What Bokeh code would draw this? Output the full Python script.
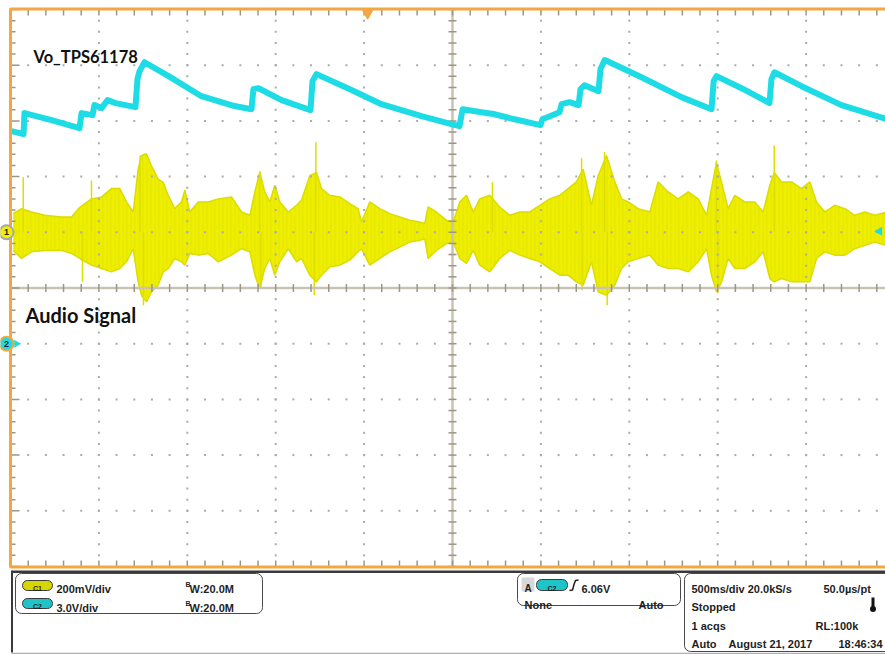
import numpy as np
from bokeh.plotting import figure
from bokeh.models import Range1d, Label, BoxAnnotation
from bokeh.core.properties import value
from bokeh.layouts import column
from bokeh.embed import file_html
from bokeh.resources import INLINE

# ---------------- data ----------------
# Channel 2 (cyan): Vo_TPS61178, time [s] and voltage [V]
ch2_t = [0.006, 0.074, 0.079, 0.232, 0.390, 0.402, 0.464, 0.475, 0.515, 0.549,
         0.594, 0.707, 0.718, 0.730, 0.758, 0.894, 1.080, 1.267, 1.363, 1.374,
         1.403, 1.533, 1.697, 1.708, 1.731, 1.929, 2.098, 2.325, 2.494, 2.540,
         2.557, 2.664, 2.732, 2.845, 2.998, 3.009, 3.037, 3.105, 3.117, 3.162,
         3.213, 3.224, 3.247, 3.326, 3.337, 3.360, 3.377, 3.569, 3.795, 3.965,
         3.977, 3.993, 4.135, 4.293, 4.304, 4.321, 4.474, 4.700, 4.955]
ch2_v = [11.45, 11.29, 12.42, 12.04, 11.61, 12.42, 12.31, 12.85, 12.69, 13.12,
         12.96, 12.74, 14.25, 14.68, 15.16, 14.41, 13.33, 12.80, 12.63, 13.71,
         13.76, 13.12, 12.58, 14.14, 14.52, 13.66, 12.90, 12.26, 11.83, 11.72,
         12.63, 12.47, 12.37, 12.10, 11.77, 12.10, 12.20, 12.47, 12.90, 13.01,
         12.85, 13.71, 13.92, 13.60, 14.78, 15.27, 15.21, 14.35, 13.28, 12.63,
         14.14, 14.41, 13.76, 12.96, 14.25, 14.62, 13.87, 12.85, 12.10]

# Channel 1 (yellow): audio signal envelope, time [s], upper / lower [mV]
ch1_t = [0.015, 0.062, 0.119, 0.194, 0.288, 0.345, 0.392, 0.458, 0.515, 0.571,
         0.618, 0.656, 0.694, 0.722, 0.741, 0.769, 0.797, 0.835, 0.864, 0.892,
         0.929, 0.967, 0.986, 1.014, 1.062, 1.118, 1.175, 1.250, 1.307, 1.354,
         1.382, 1.410, 1.438, 1.467, 1.495, 1.523, 1.571,
         1.618, 1.646, 1.693, 1.731, 1.759, 1.806, 1.863, 1.919, 1.966, 1.985,
         2.032, 2.089, 2.145, 2.202, 2.258, 2.315, 2.343, 2.362, 2.409, 2.466,
         2.504, 2.541, 2.579, 2.617, 2.654, 2.711, 2.767, 2.824, 2.881, 2.937,
         2.994, 3.050, 3.107, 3.154, 3.201, 3.239,
         3.286, 3.324, 3.371, 3.418, 3.456, 3.494, 3.550, 3.616, 3.663, 3.720,
         3.776, 3.833, 3.890, 3.937, 3.965, 3.993, 4.022, 4.059, 4.097, 4.153,
         4.210, 4.257, 4.295, 4.320, 4.361, 4.418, 4.474, 4.521, 4.559, 4.606,
         4.662, 4.719, 4.775, 4.832, 4.889, 4.955]
ch1_hi = [67, 85, 73, 61, 55, 55, 90, 120, 127, 157,
          157, 109, 73, 227, 276, 282, 239, 191, 179, 133,
          85, 109, 151, 73, 109, 109, 120, 127, 73, 61,
          145, 217, 145, 109, 169, 109, 73,
          97, 115, 203, 215, 157, 133, 127, 103, 85, 37,
          109, 85, 67, 55, 43, 37, 31, 91, 73, 43,
          37, 109, 133, 73, 120, 133, 91, 61, 73, 73,
          97, 120, 133, 157, 181, 227,
          97, 203, 276, 181, 120, 109, 85, 73, 181, 145,
          120, 145, 120, 61, 157, 251, 179, 85, 133, 109,
          109, 73, 169, 215, 181, 181, 157, 181, 109, 73,
          97, 85, 61, 73, 61, 73]
ch1_lo = [-65, -94, -70, -65, -65, -76, -94, -118, -130, -142,
          -130, -106, -59, -178, -226, -250, -214, -190, -142, -130,
          -94, -106, -118, -76, -82, -76, -106, -82, -59, -70,
          -154, -202, -130, -94, -154, -106, -59,
          -106, -94, -154, -178, -154, -124, -118, -100, -70, -59,
          -118, -94, -70, -53, -35, -29, -23, -94, -65, -41,
          -35, -94, -112, -65, -118, -142, -94, -65, -82, -94,
          -106, -130, -154, -154, -178, -190,
          -106, -214, -226, -190, -130, -106, -94, -82, -118, -130,
          -130, -142, -106, -59, -154, -214, -178, -94, -130, -130,
          -106, -70, -166, -178, -166, -178, -178, -178, -94, -70,
          -82, -82, -59, -47, -35, -47]
# isolated tall spikes of the audio signal
spike_t = [0.072, 0.407, 0.458, 0.733, 0.752, 1.410, 1.416, 1.718, 1.727,
           2.726, 3.230, 3.233, 3.360, 3.375, 3.993, 4.000, 4.320]
spike_mv = [198, -178, 186, 276, -262, 219, -202, -226, 324,
            180, 266, -208, 288, -262, 258, -220, 312]

# scope settings
ch1_scale = "200mV/div"
ch2_scale = "3.0V/div"
bw_text = "W:20.0M"
trig_level = 6.06
trig_time = 2.02

# ---------------- colours ----------------
ORANGE = "#F4A640"
YELLOW = "#EEEE00"
CYAN = "#1EDCE6"
GRIDC = "#C9C3B5"
TICKC = "#9E9684"
DOTC = "#ABABAB"

PX = 0.5 / 88.4      # seconds per pixel
PY = 10.0 / 557.0    # divisions per pixel
X_END = 875 * PX

p = figure(width=885, height=570, x_range=Range1d(-10 * PX, X_END),
           y_range=Range1d(-5 - 4 * PY, 5 + 9 * PY),
           output_backend="svg", toolbar_location=None,
           x_axis_location=None, y_axis_location=None, min_border=0)
p.xgrid.visible = False
p.ygrid.visible = False
p.outline_line_color = None
p.background_fill_color = "white"
p.border_fill_color = "white"
p.extra_y_ranges = {"ch1": Range1d(-1200 - 800 * PY, 800 + 1800 * PY),
                    "ch2": Range1d(-12 - 12 * PY, 18 + 27 * PY)}

# ---- Channel 1 audio trace ----
p.varea(x=ch1_t, y1=ch1_lo, y2=ch1_hi, y_range_name="ch1", fill_color=YELLOW,
        hatch_pattern="vertical_line", hatch_color="#D6D600", hatch_alpha=0.35,
        hatch_scale=4, hatch_weight=1)
p.line(ch1_t, ch1_hi, y_range_name="ch1", line_color="#DCDC00", line_width=1.5)
p.line(ch1_t, ch1_lo, y_range_name="ch1", line_color="#DCDC00", line_width=1.5)
p.segment(x0=spike_t, y0=[0] * len(spike_t), x1=spike_t, y1=spike_mv,
          y_range_name="ch1", line_color="#DEDE00", line_width=1.5)

# ---- graticule ----
minor_x = np.arange(0, X_END + 1e-9, 0.1)
minor_y = np.arange(-5, 5 + 1e-9, 0.2)
major_x = [0.5, 1.0, 1.5, 2.0, 3.0, 3.5, 4.0, 4.5]
major_y = [-4, -3, -2, -1, 1, 2, 3, 4]
dx = [mx for mx in major_x for _ in minor_y]
dy = [my for _ in major_x for my in minor_y]
dx += [mx for _ in major_y for mx in minor_x]
dy += [my for my in major_y for _ in minor_x]
p.scatter(dx, dy, marker="square", size=2, fill_color=DOTC, line_color=None)

# centre cross
p.line([2.5, 2.5], [-5, 5], line_color=GRIDC, line_width=2.5)
p.line([0, X_END], [0, 0], line_color=GRIDC, line_width=2.5)
p.segment(x0=2.5 - 4 * PX, y0=minor_y, x1=2.5 + 4 * PX, y1=minor_y, line_color=TICKC, line_width=1.5)
p.segment(x0=minor_x, y0=-4 * PY, x1=minor_x, y1=4 * PY, line_color=TICKC, line_width=1.5)
# edge ticks
p.segment(x0=minor_x, y0=5, x1=minor_x, y1=5 - 6 * PY, line_color=TICKC, line_width=1.5)
p.segment(x0=minor_x, y0=-5, x1=minor_x, y1=-5 + 6 * PY, line_color=TICKC, line_width=1.5)
tick_len = [9 * PX if abs(v - round(v)) < 1e-6 else 5 * PX for v in minor_y]
p.segment(x0=0, y0=minor_y, x1=tick_len, y1=minor_y, line_color=TICKC, line_width=1.5)

# ---- Channel 2 trace ----
p.line(ch2_t, ch2_v, y_range_name="ch2", line_color=CYAN, line_width=6, line_join="round")

# ---- orange frame (right side lies beyond the screen) ----
p.line([X_END, 0, 0, X_END], [5 + 0.5 * PY, 5 + 0.5 * PY, -5 - 0.5 * PY, -5 - 0.5 * PY],
       line_color=ORANGE, line_width=3)

# ---- markers ----
p.scatter([trig_time], [5 - 4 * PY], marker="inverted_triangle", size=10,
          fill_color=ORANGE, line_color=ORANGE)
p.scatter([6 * PX], [1], marker="triangle", angle=-np.pi / 2, size=8,
          fill_color="#E8E800", line_color=None)
p.scatter([6 * PX], [-1], marker="triangle", angle=-np.pi / 2, size=8,
          fill_color=CYAN, line_color=None)
p.scatter([X_END - 6 * PX], [-1 + trig_level / 3.0], marker="triangle", angle=np.pi / 2,
          size=9, fill_color=CYAN, line_color=None)
p.scatter([-4 * PX], [1], marker="circle", size=14, fill_color="#F0F000",
          line_color="#A8A8A8", line_width=2)
p.scatter([-4 * PX], [-1], marker="circle", size=14, fill_color=CYAN,
          line_color=ORANGE, line_width=2)
p.text([-4 * PX, -4 * PX], [1, -1], text=["1", "2"], text_align="center", text_baseline="middle",
       text_font=value("Liberation Sans"), text_font_size="9px", text_font_style="bold",
       text_color="#202020")

# ---- annotations ----
p.add_layout(Label(x=0.13, y=4.14, text="Vo_TPS61178", text_font="Lato", text_font_style="bold",
                   text_font_size="16.5px", text_color="#111111", text_baseline="alphabetic"))
p.add_layout(Label(x=0.085, y=-0.49, text="Audio Signal", text_font="Lato", text_font_style="bold",
                   text_font_size="20px", text_color="#111111", text_baseline="alphabetic"))

# ================= bottom status panel =================
q = figure(width=885, height=84, x_range=Range1d(0, 885), y_range=Range1d(654, 570),
           output_backend="svg", toolbar_location=None,
           x_axis_location=None, y_axis_location=None, min_border=0)
q.xgrid.visible = False
q.ygrid.visible = False
q.outline_line_color = None
q.background_fill_color = "white"
q.border_fill_color = "white"

q.line([11, 885], [571, 571], line_color="#3A3A3A", line_width=3)
q.line([11.5, 11.5], [570, 652], line_color="#3A3A3A", line_width=2)
q.line([11, 885], [653, 653], line_color="#B0B0B0", line_width=1.5)


def box(l, r, t, b, fill=None, line="#4A4A4A", rad=6, lw=1):
    q.add_layout(BoxAnnotation(left=l, right=r, top=t, bottom=b,
                               fill_color=fill if fill else "white",
                               fill_alpha=1 if fill else 0,
                               line_color=line, line_alpha=1 if line else 0,
                               line_width=lw, border_radius=rad))


def txt(x, y, s, size="11px", align="left", bold=True, color="#1E1E1E"):
    q.add_layout(Label(x=x, y=y, text=s, text_font="Liberation Sans", text_font_size=size,
                       text_font_style="bold" if bold else "normal", text_color=color,
                       text_align=align, text_baseline="alphabetic"))


box(15, 262, 573, 613)
box(517, 680, 573, 605)
box(684, 900, 573, 651)

# channel pills
box(22, 52, 580, 590, fill="#D6D600", line="#3C3C3C", rad=5)
box(22, 52, 598, 608, fill="#1FC4C8", line="#3C3C3C", rad=5)
box(536, 567, 579, 590, fill="#1FC4C8", line="#3C3C3C", rad=5)
txt(37, 588, "C1", size="7px", align="center")
txt(37, 606, "C2", size="7px", align="center")
txt(551.5, 587.5, "C2", size="7px", align="center")

txt(56, 588, ch1_scale)
txt(56, 607, ch2_scale)
txt(185, 584, "B", size="7px")
txt(189, 588, bw_text)
txt(185, 603, "B", size="7px")
txt(189, 607, bw_text)

# trigger box
box(521, 534, 577, 591, fill="#D8D8D8", line=None, rad=1)
txt(527.5, 588, "A", size="10px", align="center")
q.line([569, 572, 573.5, 575, 578], [590, 589.5, 584, 580, 579.5], line_color="#1E1E1E", line_width=1.5)
txt(581, 588, f"{trig_level:.2f}V")
txt(524, 604, "None")
txt(638, 604, "Auto")

# acquisition box
txt(691, 588, "500ms/div  20.0kS/s")
txt(823, 588, "50.0\u00b5s/pt")
txt(691, 606, "Stopped")
q.line([872.5, 872.5], [597, 607], line_color="#111111", line_width=3)
q.scatter([872.5], [608.5], marker="circle", size=6, fill_color="#111111", line_color=None)
txt(691, 625, "1 acqs")
txt(815, 625, "RL:100k")
txt(691, 643, "Auto")
txt(728, 643, "August 21, 2017")
txt(838, 643, "18:46:34")

layout = column(p, q, spacing=0)
open("out.html", "w").write(file_html(layout, INLINE))
